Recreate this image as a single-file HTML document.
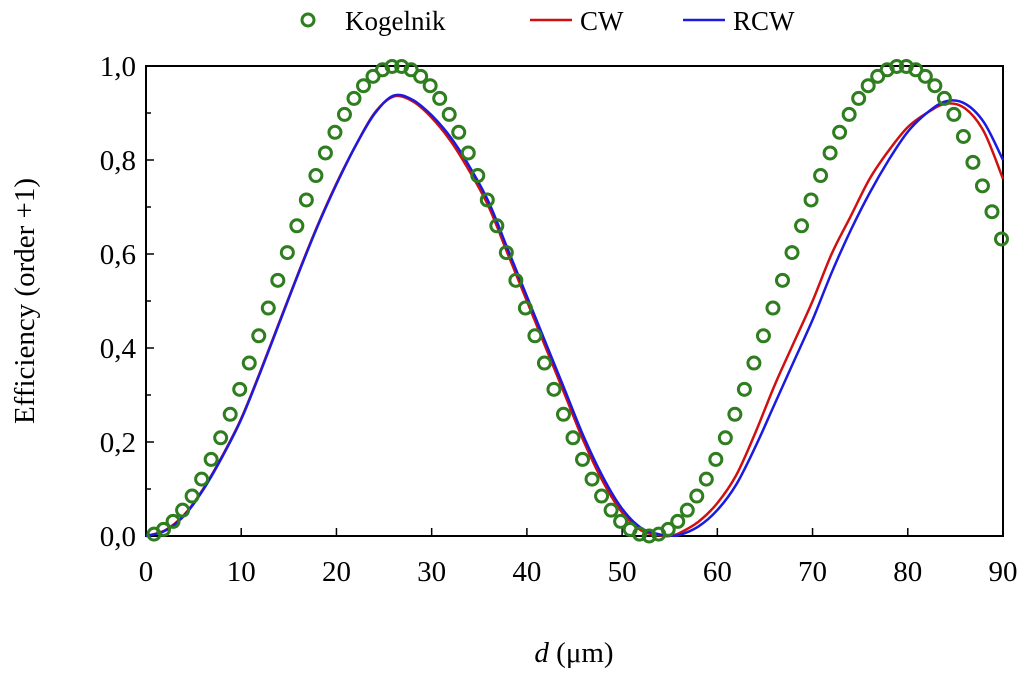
<!DOCTYPE html>
<html><head><meta charset="utf-8">
<style>
html,body{margin:0;padding:0;background:#fff;}
svg{display:block;font-family:"Liberation Serif",serif;}
</style></head>
<body>
<svg id="chart" width="1024" height="675" viewBox="0 0 1024 675">
<g id="legend">
  <g>
    <circle cx="308" cy="20" r="6" fill="none" stroke="#2e7d1e" stroke-width="3"/>
    <text x="345" y="30" font-size="27">Kogelnik</text>
  </g>
  <g>
    <line x1="530" y1="20" x2="572" y2="20" stroke="#d01010" stroke-width="2.5"/>
    <text x="580" y="30" font-size="27">CW</text>
  </g>
  <g>
    <line x1="683" y1="20" x2="725" y2="20" stroke="#1a1ae0" stroke-width="2.5"/>
    <text x="733" y="30" font-size="27">RCW</text>
  </g>
</g>
<text transform="translate(34,301) rotate(-90)" text-anchor="middle" font-size="29">Efficiency (order +1)</text>
<text x="574" y="662" text-anchor="middle" font-size="29"><tspan font-style="italic">d</tspan> (μm)</text>
<g id="plot"></g>
</svg>
<script>
const kogD = [1,2,3,4,5,6,7,8,9,10,11,12,13,14,15,16,17,18,19,20,21,22,23,24,25,26,27,28,29,30,31,32,33,34,35,36,37,38,39,40,41,42,43,44,45,46,47,48,49,50,51,52,53,54,55,56,57,58,59,60,61,62,63,64,65,66,67,68,69,70,71,72,73,74,75,76,77,78,79,80,81,82,83,84,85,86,87,88,89,90];
const kogVals = [0.004,0.014,0.031,0.055,0.085,0.121,0.163,0.209,0.259,0.312,0.368,0.426,0.485,0.544,0.603,0.660,0.715,0.767,0.815,0.859,0.897,0.931,0.958,0.978,0.992,0.999,0.999,0.992,0.978,0.958,0.931,0.897,0.859,0.815,0.767,0.715,0.660,0.603,0.544,0.485,0.426,0.368,0.312,0.259,0.209,0.163,0.121,0.085,0.055,0.031,0.014,0.004,0.0,0.004,0.014,0.031,0.055,0.085,0.121,0.163,0.209,0.259,0.312,0.368,0.426,0.485,0.544,0.603,0.660,0.715,0.767,0.815,0.859,0.897,0.931,0.958,0.978,0.992,0.999,0.999,0.992,0.978,0.958,0.931,0.897,0.850,0.795,0.745,0.690,0.632];
const lineD = [0,2,4,6,8,10,12,14,16,18,20,22,24,26,28,30,32,34,36,38,40,42,44,46,48,50,52,54,55,56,58,60,62,64,66,68,70,72,74,76,78,80,82,84,86,88,90];
const cwVals = [0,0.012,0.045,0.10,0.17,0.25,0.35,0.455,0.56,0.66,0.75,0.83,0.90,0.935,0.925,0.89,0.84,0.775,0.70,0.60,0.50,0.40,0.30,0.20,0.115,0.05,0.012,0.001,0,0.006,0.03,0.07,0.13,0.22,0.32,0.41,0.50,0.60,0.68,0.76,0.82,0.87,0.90,0.92,0.91,0.86,0.76];
const rcwVals = [0,0.011,0.043,0.098,0.168,0.248,0.348,0.453,0.558,0.658,0.748,0.83,0.898,0.937,0.928,0.895,0.848,0.785,0.71,0.61,0.51,0.41,0.31,0.21,0.125,0.058,0.017,0.003,0.001,0.002,0.02,0.055,0.11,0.19,0.28,0.37,0.46,0.56,0.65,0.73,0.80,0.86,0.90,0.925,0.92,0.88,0.80];
const xTicks = [0,10,20,30,40,50,60,70,80,90];
const yTicks = [0,0.2,0.4,0.6,0.8,1.0];
const yTickLabels = ["0,0","0,2","0,4","0,6","0,8","1,0"];

const L=146,R=1003,T=66,B=536;
const xs=d=>L+(R-L)*d/90;
const ys=v=>B-(B-T)*v;
const NS="http://www.w3.org/2000/svg";
const plot=document.getElementById('plot');
function mk(tag,attrs,parent){const e=document.createElementNS(NS,tag);for(const k in attrs)e.setAttribute(k,attrs[k]);(parent||plot).appendChild(e);return e;}

const frame=mk('rect',{x:L,y:T,width:R-L,height:B-T,fill:'none',stroke:'#000','stroke-width':2});



xTicks.forEach((t,i)=>{
  const ln=mk('line',{x1:xs(t),x2:xs(t),y1:B,y2:B-8,stroke:'#000','stroke-width':1.5});
  
  
  const tx=mk('text',{x:xs(t),y:B+45,'text-anchor':'middle','font-size':29});
  tx.textContent=t;
  
  
});
yTicks.forEach((t,i)=>{
  const ln=mk('line',{x1:L,x2:L+8,y1:ys(t),y2:ys(t),stroke:'#000','stroke-width':1.5});
  
  
  if(i<yTicks.length-1){
    const m=mk('line',{x1:L,x2:L+5,y1:ys(t+0.1),y2:ys(t+0.1),stroke:'#000','stroke-width':1.5});
    
    
  }
  const tx=mk('text',{x:L-10,y:ys(t)+10,'text-anchor':'end','font-size':29});
  tx.textContent=yTickLabels[i];
  
  
});

function path(vals,color,name){
  const P=lineD.map((x,i)=>[xs(x),ys(vals[i])]);
  let d='M'+P[0][0].toFixed(1)+','+P[0][1].toFixed(1);
  for(let i=0;i<P.length-1;i++){
    const p0=P[Math.max(0,i-1)],p1=P[i],p2=P[i+1],p3=P[Math.min(P.length-1,i+2)];
    const c1=[p1[0]+(p2[0]-p0[0])/6,p1[1]+(p2[1]-p0[1])/6];
    const c2=[p2[0]-(p3[0]-p1[0])/6,p2[1]-(p3[1]-p1[1])/6];
    d+=' C'+c1.map(v=>v.toFixed(1)).join(',')+' '+c2.map(v=>v.toFixed(1)).join(',')+' '+p2.map(v=>v.toFixed(1)).join(',');
  }
  const p=mk('path',{d:d,fill:'none',stroke:color,'stroke-width':2.5,'stroke-linejoin':'round'});
  
  
}
path(cwVals,'#d01010','cw-line');
path(rcwVals,'#1a1ae0','rcw-line');

kogD.forEach((d,i)=>{
  const c=mk('circle',{cx:xs(d)-1.5,cy:ys(kogVals[i]),r:6,fill:'none',stroke:'#2e7d1e','stroke-width':3});
  
  
});
</script>
</body></html>
